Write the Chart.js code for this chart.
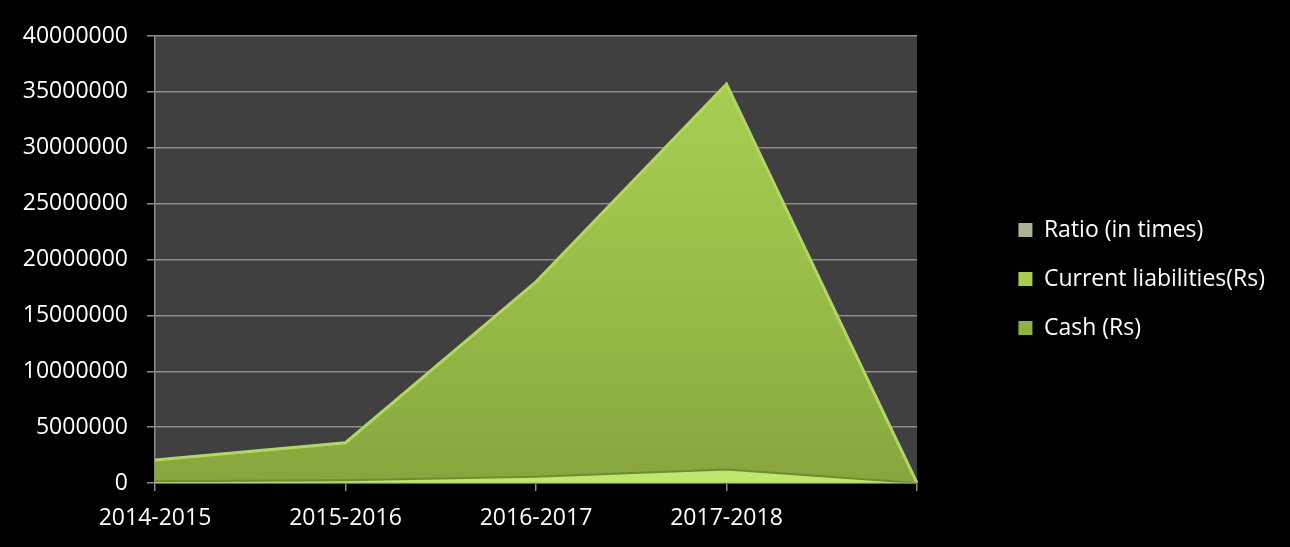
<!DOCTYPE html>
<html>
<head>
<meta charset="utf-8">
<script src="https://cdn.jsdelivr.net/npm/chart.js@4"></script>
<style>
  html, body { margin: 0; padding: 0; background: #000; }
  #wrap { width: 1290px; height: 547px; }
</style>
</head>
<body>
<div id="wrap"><canvas id="c" width="1290" height="547"></canvas></div>
<script>
const categories = ['2014-2015', '2015-2016', '2016-2017', '2017-2018', ''];
const ratioValues = [1.2, 1.1, 0.9, 1.0, 0];
const currentLiabilities = [150000, 250000, 550000, 1200000, 0];
const cashValues = [2050000, 3600000, 18000000, 35700000, 0];
const yTicksMax = 40000000;
const yTickStep = 5000000;

const PLOT_RIGHT = 917;
const PAD_RIGHT = 15;
const FONT = '"Open Sans"';

const bgPlugin = {
  id: 'bg',
  beforeDraw(chart) {
    const { ctx, chartArea } = chart;
    ctx.save();
    ctx.fillStyle = '#000';
    ctx.fillRect(0, 0, chart.width, chart.height);
    ctx.fillStyle = '#404040';
    ctx.fillRect(chartArea.left, chartArea.top, chartArea.right - chartArea.left, chartArea.bottom - chartArea.top);
    ctx.restore();
  }
};

function grad(ctx, stops) {
  const area = ctx.chart.chartArea;
  if (!area) return stops[0][1];
  const g = ctx.chart.ctx.createLinearGradient(0, area.top, 0, area.bottom);
  stops.forEach(s => g.addColorStop(s[0], s[1]));
  return g;
}

new Chart(document.getElementById('c'), {
  type: 'line',
  data: {
    labels: categories,
    datasets: [
      {
        label: 'Ratio (in times)',
        data: ratioValues,
        fill: 'origin',
        backgroundColor: '#a7b38f',
        borderColor: '#a7b38f',
        borderWidth: 1,
        pointRadius: 0,
        tension: 0
      },
      {
        label: 'Current liabilities(Rs)',
        data: currentLiabilities,
        fill: 'origin',
        backgroundColor: '#bfe86a',
        borderColor: '#6f8b35',
        borderWidth: 2,
        pointRadius: 0,
        tension: 0
      },
      {
        label: 'Cash (Rs)',
        data: cashValues,
        fill: 'origin',
        backgroundColor: (c) => grad(c, [[0, '#a9d153'], [0.5, '#9bbf4a'], [0.95, '#89a93f'], [1, '#86a53d']]),
        borderColor: '#b0d95a',
        borderWidth: 3,
        pointRadius: 0,
        tension: 0
      }
    ]
  },
  options: {
    responsive: false,
    animation: false,
    events: [],
    layout: { padding: { top: 36, right: PAD_RIGHT, bottom: 0, left: 0 } },
    plugins: {
      tooltip: { enabled: false },
      legend: {
        position: 'right',
        maxWidth: 400,
        title: { display: true, text: '', font: { size: 1, lineHeight: 1 }, padding: { top: -26, bottom: 0 } },
        labels: {
          color: '#ffffff',
          font: { family: FONT, size: 23 },
          boxWidth: 14,
          boxHeight: 14,
          padding: 26,
          generateLabels(chart) {
            const cols = ['#a9b592', '#a6d04c', '#8fb343'];
            return chart.data.datasets.map((ds, i) => ({
              text: ds.label,
              fillStyle: cols[i],
              strokeStyle: cols[i],
              lineWidth: 0,
              fontColor: '#ffffff',
              hidden: false,
              datasetIndex: i
            }));
          }
        }
      }
    },
    scales: {
      x: {
        type: 'category',
        offset: false,
        grid: { display: true, drawOnChartArea: false, drawTicks: true, tickLength: 8, color: '#8c8c8c', lineWidth: 1.5 },
        border: { display: true, color: '#8c8c8c', width: 1.5 },
        ticks: { color: '#ffffff', font: { family: FONT, size: 23 }, padding: 14, maxRotation: 0, autoSkip: false },
        afterFit(s) { s.height = 64; }
      },
      y: {
        min: 0,
        max: yTicksMax,
        grid: { color: '#8c8c8c', lineWidth: 1.5, tickLength: 8 },
        border: { display: true, color: '#8c8c8c', width: 1.5 },
        ticks: {
          stepSize: yTickStep,
          color: '#ffffff',
          font: { family: FONT, size: 23 },
          padding: 19,
          callback: (v) => String(v)
        },
        afterFit(s) { s.width = 155; }
      },
      gap: {
        position: 'right',
        display: true,
        grid: { display: false },
        border: { display: false },
        ticks: { display: false },
        afterFit(s) {
          const lw = s.chart.legend ? s.chart.legend.width : 0;
          s.width = Math.max(0, s.chart.width - PAD_RIGHT - lw - PLOT_RIGHT);
        }
      }
    }
  },
  plugins: [bgPlugin]
});
</script>
</body>
</html>
